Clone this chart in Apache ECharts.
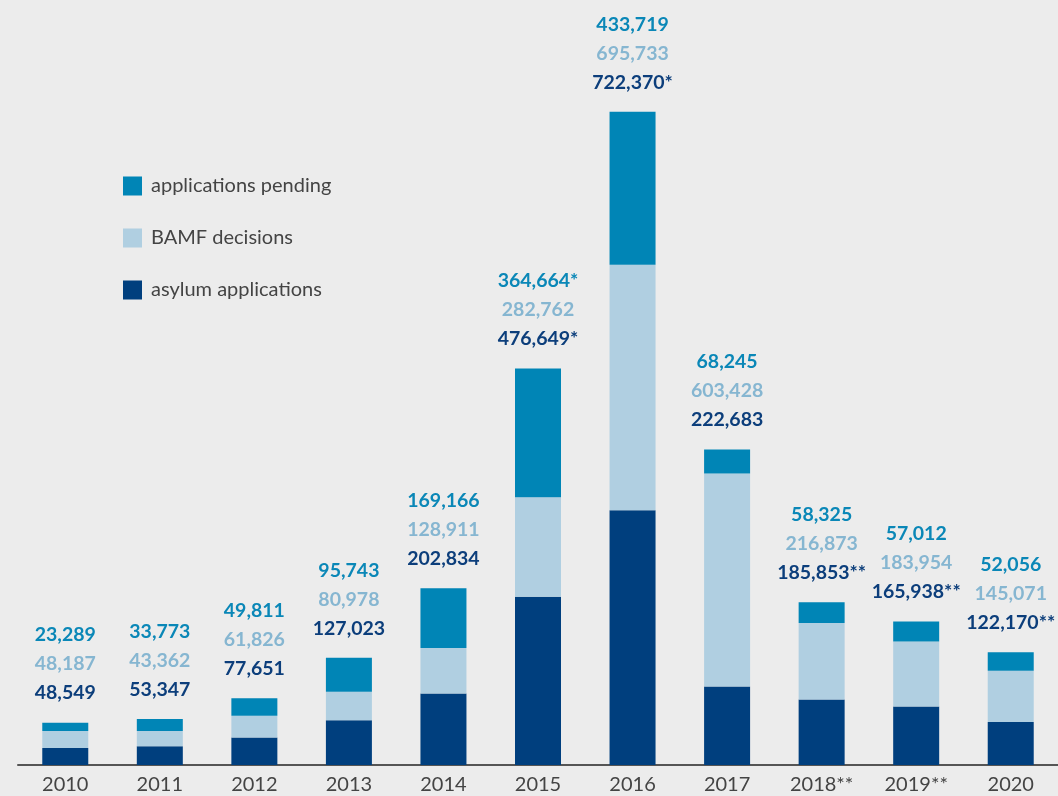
<!DOCTYPE html>
<html>
<head>
<meta charset="utf-8">
<script src="https://cdn.jsdelivr.net/npm/echarts@6/dist/echarts.min.js"></script>
<style>
  html, body { margin: 0; padding: 0; background: #ececec; }
  #chart { width: 1058px; height: 796px; }
</style>
</head>
<body>
<div id="chart"></div>
<script>
// categories and values
const years = ["2010", "2011", "2012", "2013", "2014", "2015", "2016", "2017", "2018**", "2019**", "2020"];
const asylum = [48549, 53347, 77651, 127023, 202834, 476649, 722370, 222683, 185853, 165938, 122170];
const decisions = [48187, 43362, 61826, 80978, 128911, 282762, 695733, 603428, 216873, 183954, 145071];
const pending = [23289, 33773, 49811, 95743, 169166, 364664, 433719, 68245, 58325, 57012, 52056];
// footnote marks printed after the numbers
const asylumNote = ["", "", "", "", "", "*", "*", "", "**", "**", "**"];
const pendingNote = ["", "", "", "", "", "*", "", "", "", "", ""];

const cPending = "#0085b6";
const cDecision = "#b0cfe1";
const cAsylum = "#003f7e";

function fmt(v) {
  return Number(v).toLocaleString("en-US");
}

let myChart = echarts.init(document.getElementById("chart"));

let option = {
  backgroundColor: "#ececec",
  textStyle: { fontFamily: "Lato, 'Open Sans', sans-serif" },
  grid: { left: 18, right: 0, top: 0, bottom: 31, containLabel: false },
  legend: {
    orient: "vertical",
    left: 118,
    top: 171,
    itemWidth: 19,
    itemHeight: 19,
    itemGap: 32,
    icon: "rect",
    data: ["applications pending", "BAMF decisions", "asylum applications"],
    textStyle: { color: "#444", fontSize: 20, fontFamily: "Lato", padding: [0, 0, 0, 4] },
  },
  xAxis: {
    type: "category",
    data: years,
    axisTick: { show: false },
    axisLine: { lineStyle: { color: "#555", width: 2 } },
    axisLabel: { color: "#444", fontSize: 20, margin: 10, fontFamily: "Lato" },
  },
  yAxis: {
    type: "value",
    min: 0,
    max: 2168800,
    show: false,
    splitLine: { show: false },
  },
  series: [
    {
      name: "asylum applications",
      type: "bar",
      stack: "total",
      barWidth: 46,
      itemStyle: { color: cAsylum },
      data: asylum,
    },
    {
      name: "BAMF decisions",
      type: "bar",
      stack: "total",
      itemStyle: { color: cDecision },
      data: decisions,
    },
    {
      name: "applications pending",
      type: "bar",
      stack: "total",
      itemStyle: { color: cPending },
      data: pending,
      label: {
        show: true,
        position: "top",
        distance: 15,
        formatter: function (p) {
          let i = p.dataIndex;
          return (
            "{p|" + fmt(pending[i]) + pendingNote[i] + "}\n" +
            "{d|" + fmt(decisions[i]) + "}\n" +
            "{a|" + fmt(asylum[i]) + asylumNote[i] + "}"
          );
        },
        rich: {
          p: { color: "#0a87b7", fontSize: 19.5, fontWeight: "bold", lineHeight: 29, fontFamily: "Lato" },
          d: { color: "#86b6d1", fontSize: 19.5, fontWeight: "bold", lineHeight: 29, fontFamily: "Lato" },
          a: { color: "#0c3e7b", fontSize: 19.5, fontWeight: "bold", lineHeight: 29, fontFamily: "Lato" },
        },
      },
    },
  ],
};

myChart.setOption(option);
</script>
</body>
</html>
